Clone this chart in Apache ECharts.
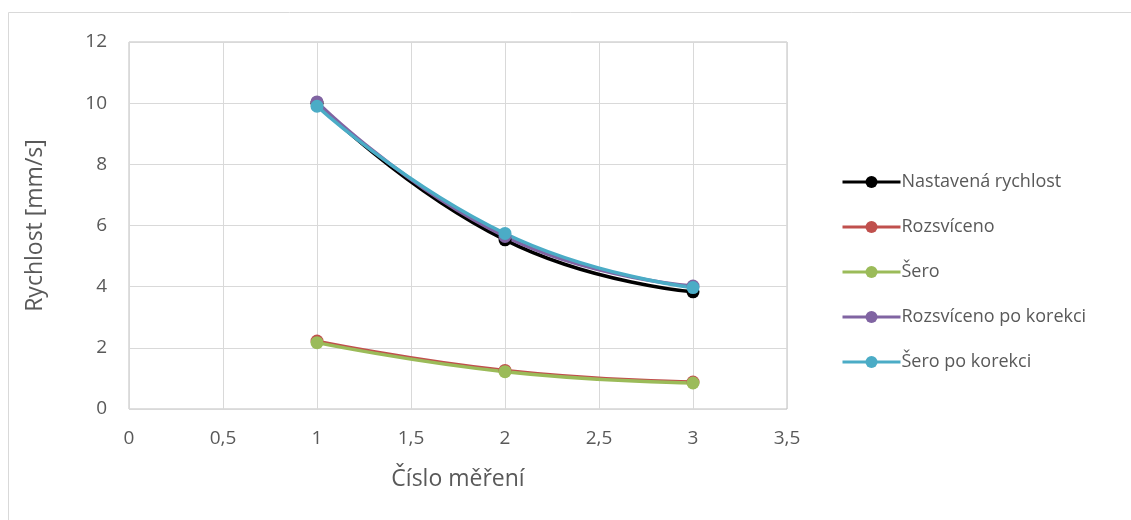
<!DOCTYPE html>
<html>
<head>
<meta charset="utf-8">
<script src="https://cdn.jsdelivr.net/npm/echarts@6/dist/echarts.min.js"></script>
<style>
    html, body { margin: 0; padding: 0; background: #fff; }
    #chart { width: 1131px; height: 520px; }
</style>
</head>
<body>
<div id="chart"></div>
<script>
// data
let xs = [1, 2, 3];
let nastavena = [10, 5.53, 3.83];
let rozsviceno = [2.22, 1.26, 0.88];
let sero = [2.17, 1.22, 0.85];
let rozsvicenoKor = [10.04, 5.64, 4.02];
let seroKor = [9.9, 5.74, 3.97];

let names = ['Nastavená rychlost', 'Rozsvíceno', 'Šero', 'Rozsvíceno po korekci', 'Šero po korekci'];
let values = [nastavena, rozsviceno, sero, rozsvicenoKor, seroKor];
let colors = ['#000000', '#C0504D', '#9BBB59', '#8064A2', '#4BACC6'];

(function () {
    let myChart = echarts.init(document.getElementById('chart'));
    let font = '"Open Sans", "Noto Sans", sans-serif';

    let series = names.map(function (name, i) {
        return {
            name: name,
            type: 'line',
            smooth: 0.5,
            symbol: 'circle',
            symbolSize: 13,
            color: colors[i],
            lineStyle: { width: 3.5, color: colors[i] },
            itemStyle: { color: colors[i] },
            data: xs.map(function (x, k) { return [x, values[i][k]]; })
        };
    });

    let option = {
        animation: false,
        textStyle: { fontFamily: font },
        graphic: [{
            type: 'rect',
            shape: { x: 8.5, y: 12.5, width: 1200, height: 600 },
            style: { fill: 'none', stroke: '#D9D9D9', lineWidth: 1 },
            silent: true
        }],
        grid: {
            left: 129,
            top: 42,
            width: 658,
            height: 367,
            show: true,
            borderColor: '#BFBFBF',
            borderWidth: 1
        },
        legend: {
            orient: 'vertical',
            left: 836,
            top: 168,
            itemWidth: 58,
            itemHeight: 15,
            itemGap: 27,
            lineStyle: { width: 3 },
            textStyle: { fontSize: 18, color: '#595959', fontFamily: font, padding: [0, 0, 0, -4] },
            data: names
        },
        xAxis: {
            type: 'value',
            min: 0,
            max: 3.5,
            interval: 0.5,
            name: 'Číslo měření',
            nameLocation: 'middle',
            nameGap: 59,
            nameTextStyle: { fontSize: 23, color: '#595959' },
            axisLine: { show: false },
            axisTick: { show: false },
            axisLabel: {
                fontSize: 19,
                color: '#595959',
                margin: 20,
                formatter: function (v) { return String(v).replace('.', ','); }
            },
            splitLine: { show: true, lineStyle: { color: '#D9D9D9', width: 1 } }
        },
        yAxis: {
            type: 'value',
            min: 0,
            max: 12,
            interval: 2,
            name: 'Rychlost [mm/s]',
            nameLocation: 'middle',
            nameGap: 82,
            nameTextStyle: { fontSize: 23, color: '#595959' },
            axisLine: { show: false },
            axisTick: { show: false },
            axisLabel: { fontSize: 19, color: '#595959', margin: 22 },
            splitLine: { show: true, lineStyle: { color: '#D9D9D9', width: 1 } }
        },
        series: series
    };
    myChart.setOption(option);
    window.addEventListener('resize', function () {
        myChart.resize();
    })
})();
</script>
</body>
</html>
